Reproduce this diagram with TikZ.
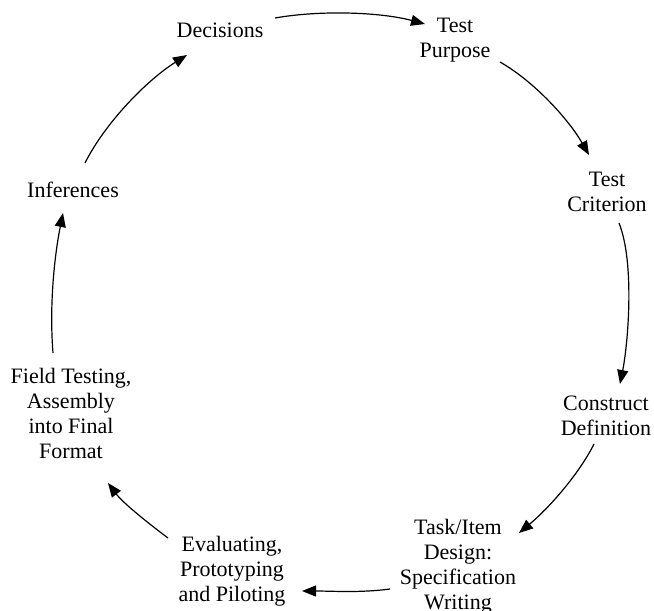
\documentclass[tikz,border=0pt]{standalone}
\usepackage{fontspec}
\setmainfont{Liberation Serif}
\usetikzlibrary{arrows.meta,calc}
\begin{document}
\begin{tikzpicture}[x=1pt,y=-1pt,
  lbl/.style={anchor=north,inner sep=0pt,align=center,font=\fontsize{22}{25}\selectfont},
  arr/.style={line width=1.2pt,-{Triangle[length=14pt,width=11pt]}}]
\useasboundingbox (0,0) rectangle (654,611);
\node[lbl] (dec) at (220,23) {Decisions};
\node[lbl] (pur) at (455,18) {Test\\Purpose};
\node[lbl] (cri) at (607,172) {Test\\Criterion};
\node[lbl] (con) at (606,396) {Construct\\Definition};
\node[lbl] (task) at (458,519) {Task/Item\\Design:\\Specification\\Writing};
\node[lbl] (eval) at (232,536) {Evaluating,\\Prototyping\\and Piloting};
\node[lbl] (field) at (71,368) {Field Testing,\\Assembly\\into Final\\Format};
\node[lbl] (inf) at (73,182) {Inferences};
\draw[arr] ($(dec.north)+(55,-5)$) .. controls +(45,-8) and +(-45,-12) .. ($(pur.north)+(-30,6)$);
\draw[arr] ($(pur.north)+(45,44)$) .. controls +(35,20) and +(-20,-35) .. ($(cri.north)+(-18,-17)$);
\draw[arr] ($(cri.north)+(12,51)$) .. controls +(16,40) and +(8,-40) .. ($(con.north)+(14,-12)$);
\draw[arr] ($(con.north)+(-12,48)$) .. controls +(-15,30) and +(30,-25) .. ($(task.north)+(61,14)$);
\draw[arr] ($(task.north)+(-68,70)$) .. controls +(-30,4) and +(30,0) .. ($(eval.north)+(70,55)$);
\draw[arr] ($(eval.north)+(-64,2)$) .. controls +(-20,-15) and +(15,20) .. ($(field.north)+(37,115)$);
\draw[arr] ($(field.north)+(-18,-15)$) .. controls +(-4,-50) and +(-8,40) .. ($(inf.north)+(-10,31)$);
\draw[arr] ($(inf.north)+(12,-19)$) .. controls +(20,-40) and +(-40,25) .. ($(dec.north)+(-33,32)$);
\end{tikzpicture}
\end{document}
